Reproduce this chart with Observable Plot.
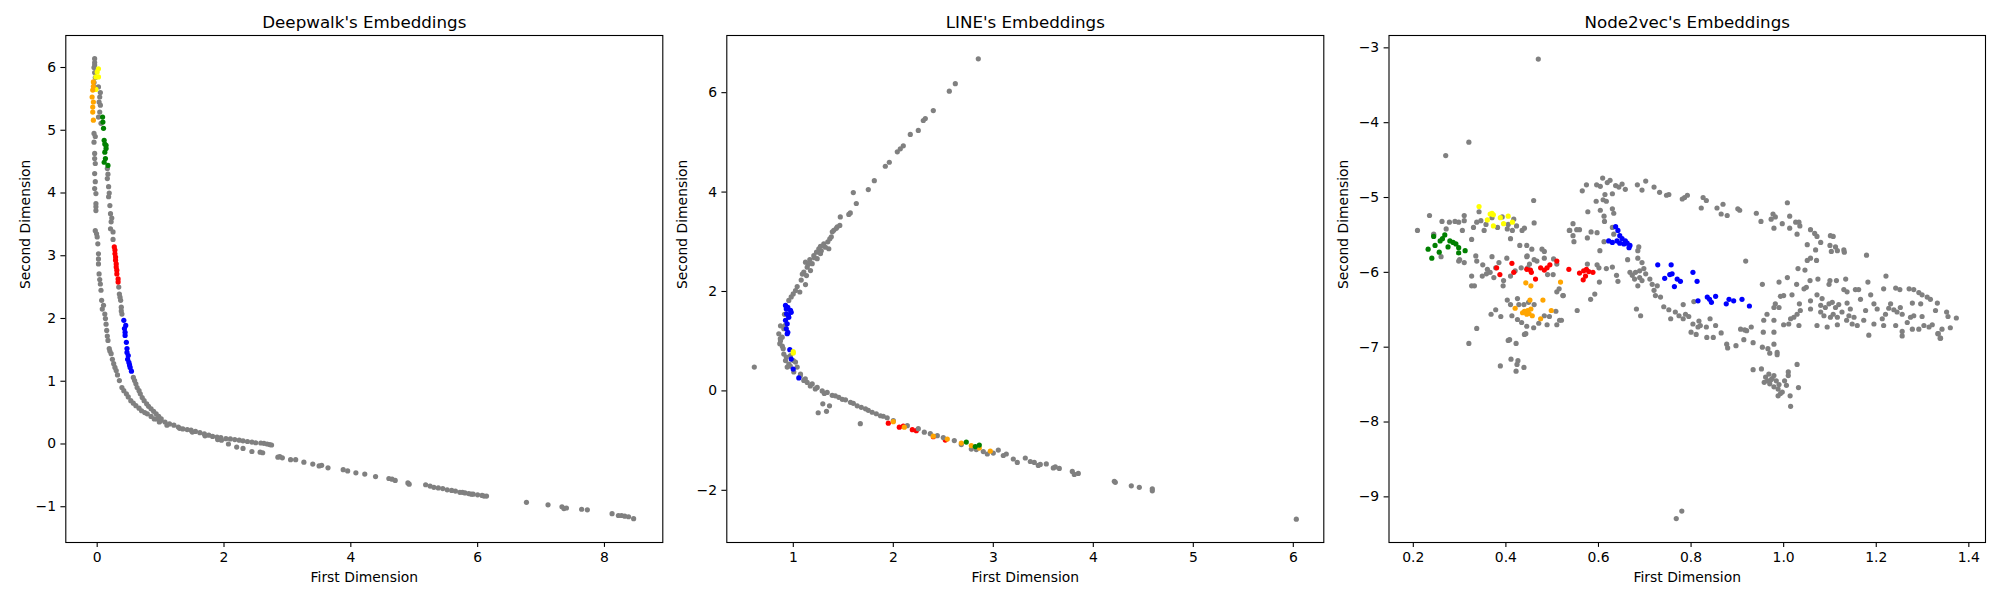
<!DOCTYPE html>
<html>
<head>
<meta charset="utf-8">
<script src="https://cdn.jsdelivr.net/npm/d3@7"></script>
<script src="https://cdn.jsdelivr.net/npm/@observablehq/plot@0.6"></script>
<style>
  html, body { margin: 0; padding: 0; background: white; }
  #c { display: flex; width: 2000px; height: 600px; }
</style>
</head>
<body>
<div id="c"></div>
<script>
// ---------- Titles / labels / ticks ----------
const titles = ["Deepwalk's Embeddings", "LINE's Embeddings", "Node2vec's Embeddings"];
const xLabel = "First Dimension";
const yLabel = "Second Dimension";
const dwXTicks = [0, 2, 4, 6, 8];
const dwYTicks = [-1, 0, 1, 2, 3, 4, 5, 6];
const lnXTicks = [1, 2, 3, 4, 5, 6];
const lnYTicks = [-2, 0, 2, 4, 6];
const nvXTicks = [0.2, 0.4, 0.6, 0.8, 1.0, 1.2, 1.4];
const nvYTicks = [-9, -8, -7, -6, -5, -4, -3];

// ---------- Deepwalk ----------
const dwGray = [[-0.04,6.14],[-0.04,6.08],[-0.05,6.0],[-0.04,5.92],[-0.03,5.84],[-0.05,5.76],[-0.03,5.68],[-0.04,6.04],
[0.02,5.69],[0.04,5.53],[0.05,5.4],[0.04,5.29],[0.06,5.11],[0.02,5.21],[0.05,5.6],[0.03,5.45],
[-0.05,4.95],[-0.05,4.81],[-0.04,4.63],[-0.03,4.47],[-0.04,4.31],[-0.03,4.18],[-0.04,4.07],[-0.02,3.99],[-0.02,3.83],[-0.02,3.72],[-0.03,3.4],[-0.01,3.35],[0.01,3.19],[0.02,3.03],[0.02,2.87],[0.03,2.71],[0.05,2.55],[0.06,2.45],[0.07,2.29],[0.1,2.21],[0.12,2.07],[0.14,1.91],[0.15,1.81],[0.17,1.65],[0.19,1.52],[0.22,1.44],[0.26,1.28],[0.3,1.17],[0.35,1.01],[0.39,0.9],[0.46,0.8],[0.53,0.69],[0.61,0.61],[0.7,0.53],[0.79,0.48],[0.9,0.4],[0.98,0.35],
[-0.04,4.55],[-0.03,4.9],[-0.02,3.78],[0.0,3.3],[0.02,2.95],[0.04,2.62],[0.08,2.15],[0.13,2.0],[0.16,1.72],[0.2,1.48],[0.24,1.35],[0.28,1.22],[0.32,1.1],[0.42,0.85],[0.49,0.75],[0.57,0.65],[0.66,0.57],[0.75,0.5],[0.85,0.44],
[0.16,4.39],[0.16,4.23],[0.18,4.1],[0.18,3.94],[0.2,3.8],[0.21,3.67],[0.22,3.54],[0.21,3.43],[0.25,3.38],[0.25,3.26],[0.17,4.3],[0.19,4.0],[0.23,3.6],
[0.34,2.5],[0.35,2.39],[0.37,2.29],[0.38,2.18],[0.39,2.07],[0.36,2.34],[0.38,2.12],
[0.57,1.06],[0.61,0.96],[0.66,0.85],[0.71,0.74],[0.78,0.64],[0.85,0.56],[0.93,0.48],[1.01,0.4],[0.59,1.01],[0.63,0.9],[0.68,0.8],[0.74,0.69],[0.81,0.6],[0.89,0.52],[0.97,0.44],
[0.94,0.40],[1.07,0.35],[1.21,0.3],[1.35,0.24],[1.48,0.22],[1.62,0.18],[1.76,0.14],[1.89,0.11],[1.96,0.06],[1.0,0.37],[1.14,0.32],[1.28,0.27],[1.42,0.23],[1.55,0.2],[1.69,0.16],[1.82,0.12],[1.1,0.3],[1.3,0.25],[1.5,0.19],[1.7,0.13],[1.9,0.07],[1.95,0.1],
[2.03,0.085],[2.17,0.07],[2.3,0.05],[2.44,0.03],[2.58,0.016],[2.68,0.0],[2.75,-0.016],[2.1,0.08],[2.24,0.06],[2.37,0.04],[2.5,0.02],[2.63,0.01],[2.72,-0.01],
[2.07,0.0],[2.2,-0.05],[2.3,-0.07],[2.44,-0.12],[2.61,-0.14],[2.85,-0.21],[2.92,-0.22],[3.13,-0.25],[3.26,-0.29],[3.4,-0.32],[3.54,-0.34],[3.64,-0.38],[3.88,-0.41],[4.08,-0.46],[4.22,-0.48],[4.39,-0.52],[4.6,-0.55],[4.7,-0.58],[4.9,-0.62],[5.18,-0.65],[5.31,-0.69],[5.45,-0.71],[5.59,-0.74],[5.72,-0.77],[5.86,-0.79],[6.0,-0.81],[6.14,-0.83],[2.57,-0.13],[2.88,-0.2],[3.05,-0.25],[3.5,-0.35],[3.95,-0.43],[4.65,-0.56],[4.92,-0.64],[5.25,-0.67],[5.38,-0.7],[5.52,-0.73],[5.65,-0.75],[5.8,-0.78],[5.93,-0.8],[6.07,-0.82],[5.76,-0.77],[5.9,-0.8],[6.1,-0.83],
[6.77,-0.93],[7.11,-0.97],[7.33,-1.0],[7.4,-1.02],[7.64,-1.04],[7.73,-1.05],[8.12,-1.11],[8.22,-1.14],[8.32,-1.15],[8.46,-1.19],[8.27,-1.14],[8.38,-1.16],[7.36,-1.03]];
const dwYellow = [[0.02,5.98],[-0.02,5.85],[0.02,5.85],[-0.02,5.65],[0.0,5.93]];
const dwOrange = [[-0.06,5.77],[-0.07,5.64],[-0.08,5.53],[-0.06,5.45],[-0.07,5.37],[-0.07,5.29],[-0.06,5.16],[-0.06,5.7]];
const dwGreen = [[0.085,5.21],[0.1,5.03],[0.09,5.13],[0.11,4.84],[0.14,4.76],[0.12,4.65],[0.13,4.55],[0.11,4.49],[0.17,4.44],[0.14,4.71],[0.12,4.78]];
const dwRed = [[0.27,3.14],[0.28,3.03],[0.29,2.93],[0.3,2.82],[0.31,2.71],[0.33,2.63],[0.31,2.77],[0.28,3.09],[0.33,2.58],[0.29,2.98],[0.3,2.87]];
const dwBlue = [[0.42,1.97],[0.43,1.84],[0.44,1.73],[0.46,1.62],[0.47,1.52],[0.49,1.41],[0.5,1.3],[0.52,1.22],[0.54,1.16],[0.45,1.89],[0.47,1.46],[0.44,1.78],[0.48,1.35],[0.51,1.26]];

// ---------- LINE ----------
const lnGray = [[2.85,6.68],[2.62,6.18],[2.56,6.03],[2.40,5.64],[2.32,5.48],[2.30,5.44],[2.25,5.24],[2.17,5.16],[2.10,4.93],[2.07,4.87],[2.04,4.81],[1.96,4.6],[1.92,4.52],[1.81,4.23],[1.75,4.05],[1.6,3.99],[1.63,3.77],[1.57,3.58],[1.555,3.55],[1.47,3.5],[1.465,3.33],[1.44,3.3],[1.405,3.23],[1.39,3.2],[1.365,3.06],[1.345,3.0],[1.305,2.96],[1.272,2.91],[1.322,2.89],[1.255,2.86],[1.355,2.86],[1.232,2.79],[1.272,2.76],[1.205,2.72],[1.239,2.66],[1.165,2.64],[1.189,2.56],[1.122,2.59],[1.139,2.49],[1.172,2.42],[1.105,2.39],[1.132,2.32],[1.079,2.23],[1.122,2.14],[1.039,2.1],[1.022,2.02],[1.065,1.99],[0.999,1.95],[0.979,1.89],[0.955,1.82],[1.43,3.27],[1.38,3.1],[1.3,2.92],[1.28,2.82],[1.21,2.68],[1.15,2.55],[1.09,2.35],
[0.912,1.54],[0.872,1.31],[0.905,1.25],[0.855,1.15],[0.872,1.01],[0.865,0.95],[0.899,0.85],[0.905,0.74],[0.922,0.61],[0.955,0.54],[0.939,0.48],[1.0,0.61],[1.022,0.58],[1.039,0.48],[1.005,0.38],[1.072,0.34],[1.105,0.21],[1.139,0.17],[1.189,0.14],[1.239,0.07],[1.289,0.0],[1.339,-0.03],[1.389,-0.09],[1.455,-0.13],[1.522,-0.18],[1.572,-0.23],[1.639,-0.3],[1.722,-0.36],[1.789,-0.43],[1.872,-0.5],[1.939,-0.54],[0.972,0.71],[0.889,1.08],[0.92,1.32],[0.87,1.05],[0.89,0.9],[0.93,0.68],[0.97,0.5],[1.07,0.3],[1.12,0.24],[1.17,0.1],[1.22,0.04],[1.31,-0.05],[1.42,-0.1],[1.49,-0.17],[1.6,-0.25],[1.68,-0.33],[1.75,-0.39],[1.83,-0.46],[1.9,-0.51],
[0.61,0.48],[1.295,-0.26],[1.362,-0.3],[1.249,-0.44],[1.332,-0.41],[1.67,-0.66],
[2.14,-0.7],[2.31,-0.83],[2.44,-0.9],[2.61,-1.0],[2.78,-1.17],[2.94,-1.27],[3.05,-1.19],[3.13,-1.27],[3.2,-1.37],[3.24,-1.44],[3.32,-1.35],[3.41,-1.44],[3.47,-1.48],[3.53,-1.47],[3.6,-1.55],[3.66,-1.56],[3.79,-1.62],[3.81,-1.68],[3.85,-1.66],[2.0,-0.6],[2.25,-0.76],[2.37,-0.86],[2.5,-0.94],[2.68,-1.08],[2.83,-1.18],[2.9,-1.22],[3.0,-1.25],[3.1,-1.3],[3.37,-1.42],[3.45,-1.5],[3.62,-1.53],
[4.22,-1.84],[4.38,-1.91],[4.46,-1.94],[4.59,-2.01],[4.59,-1.97],[6.03,-2.58],[4.21,-1.82]];
const lnBlue = [[0.922,1.72],[0.945,1.68],[0.972,1.62],[0.932,1.55],[0.955,1.48],[0.922,1.42],[0.939,1.35],[0.945,1.18],[0.979,1.58],[0.965,0.83],[0.979,0.64],[0.999,0.44],[1.055,0.26],[0.939,1.15],[0.93,1.65],[0.95,1.52],[0.93,1.25]];
const lnYellow = [[0.999,0.79],[1.0,0.76]];
const lnRed = [[1.95,-0.65],[2.1,-0.71],[2.19,-0.78],[2.23,-0.8],[2.06,-0.73],[2.4,-0.92],[2.52,-0.99]];
const lnOrange = [[2.0,-0.62],[2.11,-0.73],[2.54,-0.97],[2.68,-1.05],[2.78,-1.1],[2.86,-1.15],[2.97,-1.21],[2.4,-0.91]];
const lnGreen = [[2.73,-1.03],[2.86,-1.09],[2.82,-1.12]];

// ---------- Node2vec ----------
const nvGray = [[0.47,-3.15],[0.32,-4.26],[0.27,-4.44],[0.209,-5.44],[0.235,-5.24],[0.244,-5.49],[0.262,-5.32],[0.271,-5.42],[0.278,-5.33],[0.29,-5.32],[0.298,-5.33],[0.31,-5.31],[0.31,-5.24],[0.306,-5.44],[0.326,-5.56],[0.33,-5.4],[0.337,-5.33],[0.342,-5.19],[0.346,-5.31],[0.353,-5.44],[0.357,-5.36],[0.37,-5.27],[0.382,-5.4],[0.392,-5.26],[0.403,-5.42],[0.405,-5.36],[0.414,-5.44],[0.417,-5.29],[0.423,-5.38],[0.435,-5.44],[0.44,-5.41],[0.41,-5.55],[0.43,-5.64],[0.445,-5.64],[0.456,-5.69],[0.46,-5.04],[0.461,-5.34],[0.483,-5.72],[0.478,-5.69],[0.445,-5.79],[0.461,-5.83],[0.483,-5.81],[0.503,-5.82],[0.51,-5.89],[0.538,-5.44],
[0.244,-5.5],[0.26,-5.79],[0.298,-5.85],[0.31,-5.87],[0.3,-5.83],
[0.335,-5.78],[0.337,-5.85],[0.35,-5.9],[0.36,-5.96],[0.37,-5.79],[0.378,-5.94],[0.385,-5.87],[0.402,-5.81],[0.349,-6.05],[0.358,-6.02],[0.366,-6.0],[0.374,-6.07],[0.395,-6.11],[0.394,-6.18],[0.41,-6.05],[0.42,-5.98],[0.326,-6.05],[0.326,-6.18],[0.332,-6.18],[0.433,-5.94],[0.447,-5.94],[0.451,-5.89],[0.446,-5.78],[0.467,-5.85],[0.49,-6.03],[0.502,-6.03],[0.515,-6.22],[0.523,-6.31],[0.51,-6.26],
[0.403,-6.37],[0.41,-6.43],[0.425,-6.35],[0.428,-6.43],[0.439,-6.43],[0.449,-6.4],[0.461,-6.43],[0.413,-6.58],[0.425,-6.63],[0.434,-6.67],[0.445,-6.72],[0.46,-6.74],[0.471,-6.68],[0.483,-6.58],[0.489,-6.7],[0.494,-6.59],[0.508,-6.52],[0.51,-6.7],[0.516,-6.64],[0.368,-6.56],[0.378,-6.5],[0.389,-6.59],[0.337,-6.75],[0.32,-6.95],[0.405,-6.91],[0.422,-6.95],[0.44,-6.83],[0.388,-7.25],[0.411,-7.16],[0.426,-7.18],[0.424,-7.23],[0.422,-7.32],[0.439,-7.27],[0.443,-6.82],[0.408,-6.9],
[0.768,-9.29],[0.78,-9.19],
[0.8,-6.8],[0.811,-6.83],[0.834,-6.87],[0.848,-6.87],[0.865,-6.81],[0.877,-6.96],[0.879,-7.01],[0.897,-6.98],[0.914,-6.9],[0.92,-6.78],[0.934,-6.94],[0.934,-7.3],[0.952,-7.29],[0.954,-7.0],[0.956,-6.8],[0.966,-7.02],[0.97,-7.08],[0.979,-6.96],[0.986,-7.07],[0.986,-7.1],[0.979,-6.8],
[0.961,-7.4],[0.965,-7.45],[0.97,-7.49],[0.975,-7.42],[0.979,-7.38],[0.984,-7.45],[0.979,-7.53],[0.988,-7.56],[0.993,-7.62],[0.997,-7.6],[0.988,-7.65],[1.002,-7.45],[1.006,-7.51],[1.01,-7.33],[1.014,-7.65],[1.015,-7.79],[1.029,-7.23],[1.032,-7.54],[1.01,-7.38],[0.968,-7.36],[0.972,-7.44],[0.99,-7.5],[0.958,-7.47],
[1.184,-6.84],[1.256,-6.79],[1.334,-6.82],[1.338,-6.88],
[0.565,-4.91],[0.574,-4.83],[0.596,-4.83],[0.604,-4.85],[0.609,-4.74],[0.619,-4.8],[0.625,-4.77],[0.637,-4.84],[0.651,-4.82],[0.658,-4.89],[0.644,-4.86],[0.684,-4.83],[0.694,-4.9],[0.702,-4.78],[0.72,-4.86],[0.732,-4.93],[0.747,-4.97],[0.752,-4.96],[0.781,-5.02],[0.792,-4.97],[0.786,-5.0],[0.826,-5.0],[0.833,-5.04],[0.822,-5.14],[0.856,-5.14],[0.869,-5.09],[0.865,-5.22],[0.878,-5.24],[0.901,-5.15],[0.905,-5.17],[0.941,-5.21],[0.951,-5.32],[0.977,-5.22],[0.973,-5.29],[0.982,-5.26],[0.997,-5.35],[1.008,-5.07],[1.013,-5.25],[1.013,-5.41],[0.979,-5.41],[1.026,-5.33],[1.033,-5.33],[1.035,-5.38],[1.029,-5.49],[1.058,-5.43],[1.067,-5.48],[1.072,-5.52],[1.08,-5.6],[1.051,-5.63],[1.069,-5.7],[1.101,-5.51],[1.107,-5.52],[1.1,-5.64],[1.103,-5.72],[1.112,-5.66],[1.116,-5.71],[1.13,-5.7],[1.131,-5.73],[1.179,-5.77],[1.058,-5.81],[1.051,-5.84],[1.071,-5.84],[1.031,-5.95],[1.046,-5.97],[0.918,-5.85],
[0.595,-5.05],[0.61,-5.03],[0.617,-5.05],[0.614,-4.96],[0.63,-4.95],[0.577,-5.19],[0.604,-5.17],[0.63,-5.15],[0.633,-5.21],[0.612,-5.25],[0.613,-5.32],[0.545,-5.35],[0.537,-5.44],[0.553,-5.43],[0.559,-5.43],[0.545,-5.51],[0.547,-5.59],[0.576,-5.54],[0.584,-5.46],[0.597,-5.47],[0.63,-5.4],[0.633,-5.49],[0.612,-5.59],[0.603,-5.71],[0.687,-5.66],[0.685,-5.71],[0.663,-5.83],[0.685,-5.81],[0.694,-5.87],[0.576,-5.89],[0.597,-5.9],[0.601,-5.94],[0.617,-5.95],[0.63,-5.93],[0.639,-6.04],[0.642,-6.12],[0.602,-6.13],[0.592,-6.29],[0.583,-6.36],[0.554,-6.51],[0.524,-6.31],[0.52,-6.64],
[0.668,-6.0],[0.673,-6.04],[0.68,-6.0],[0.689,-5.98],[0.698,-5.95],[0.678,-6.09],[0.689,-6.07],[0.694,-6.11],[0.702,-6.02],[0.711,-6.09],[0.716,-6.16],[0.727,-6.18],[0.72,-6.24],[0.723,-6.31],[0.734,-6.33],[0.685,-6.18],[0.682,-6.49],[0.691,-6.58],[0.741,-6.46],[0.752,-6.5],[0.756,-6.62],[0.766,-6.53],[0.774,-6.58],[0.783,-6.43],[0.788,-6.56],[0.795,-6.59],[0.783,-6.62],[0.806,-6.39],[0.804,-6.69],[0.817,-6.65],[0.82,-6.71],[0.815,-6.73],[0.833,-6.73],[0.841,-6.62],[0.853,-6.71],[0.907,-6.76],[0.916,-6.77],[0.93,-6.73],[0.957,-6.64],[0.964,-6.56],[0.979,-6.64],[0.979,-6.47],[0.982,-6.42],[0.99,-6.47],[1.0,-6.7],[1.011,-6.69],[1.015,-6.62],[1.022,-6.6],[1.029,-6.56],[1.036,-6.51],[1.034,-6.42],[1.033,-6.71],[0.993,-6.32],[1.0,-6.31],[1.018,-6.3],[0.954,-6.16],[0.99,-6.13],[1.008,-6.07],[1.028,-6.16],[1.044,-6.22],[1.049,-6.2],[1.057,-6.11],[1.074,-6.09],[1.098,-6.16],[1.1,-6.11],[1.114,-6.11],[1.134,-6.09],[1.13,-6.23],[1.137,-6.26],[1.155,-6.23],[1.162,-6.23],[1.182,-6.13],[1.221,-6.05],[1.216,-6.22],[1.242,-6.21],[1.251,-6.23],[1.271,-6.22],[1.281,-6.23],[1.292,-6.27],[1.299,-6.3],
[1.058,-6.38],[1.072,-6.3],[1.083,-6.35],[1.058,-6.49],[1.08,-6.44],[1.09,-6.47],[1.098,-6.42],[1.105,-6.4],[1.112,-6.47],[1.119,-6.43],[1.08,-6.53],[1.087,-6.58],[1.101,-6.6],[1.107,-6.56],[1.116,-6.6],[1.126,-6.53],[1.137,-6.41],[1.144,-6.49],[1.141,-6.58],[1.152,-6.6],[1.136,-6.64],[1.148,-6.69],[1.159,-6.71],[1.173,-6.64],[1.177,-6.51],[1.166,-6.36],[1.188,-6.3],[1.195,-6.42],[1.202,-6.49],[1.195,-6.69],[1.213,-6.62],[1.22,-6.56],[1.227,-6.48],[1.231,-6.42],[1.238,-6.5],[1.245,-6.53],[1.252,-6.47],[1.256,-6.56],[1.216,-6.71],[1.242,-6.71],[1.267,-6.67],[1.274,-6.6],[1.281,-6.58],[1.256,-6.85],[1.278,-6.76],[1.292,-6.76],[1.303,-6.71],[1.314,-6.73],[1.321,-6.7],[1.317,-6.36],[1.31,-6.33],[1.332,-6.41],[1.296,-6.42],[1.278,-6.41],[1.299,-6.59],[1.328,-6.51],[1.352,-6.53],[1.355,-6.59],[1.373,-6.61],[1.342,-6.76],[1.36,-6.74],[1.333,-6.82],[1.339,-6.88],[1.072,-6.71],[1.094,-6.73],[1.116,-6.7]];
const nvGreen = [[0.232,-5.69],[0.24,-5.81],[0.247,-5.64],[0.256,-5.73],[0.258,-5.58],[0.263,-5.55],[0.268,-5.5],[0.275,-5.66],[0.279,-5.58],[0.286,-5.6],[0.292,-5.62],[0.298,-5.67],[0.312,-5.71],[0.298,-5.74],[0.244,-5.52]];
const nvYellow = [[0.342,-5.12],[0.366,-5.22],[0.373,-5.23],[0.388,-5.27],[0.405,-5.25],[0.373,-5.38],[0.395,-5.35],[0.414,-5.33],[0.36,-5.3],[0.37,-5.21]];
const nvRed = [[0.38,-5.94],[0.387,-6.03],[0.413,-5.88],[0.417,-6.0],[0.445,-5.96],[0.455,-6.0],[0.464,-6.09],[0.475,-5.94],[0.483,-5.97],[0.489,-5.94],[0.495,-5.9],[0.51,-5.85],[0.453,-5.97],[0.536,-5.96],[0.559,-6.01],[0.568,-5.98],[0.574,-5.96],[0.588,-6.0],[0.572,-6.05],[0.567,-6.1],[0.579,-5.99]];
const nvOrange = [[0.443,-6.14],[0.454,-6.18],[0.452,-6.37],[0.48,-6.37],[0.518,-6.13],[0.42,-6.48],[0.436,-6.54],[0.447,-6.51],[0.454,-6.49],[0.457,-6.58],[0.445,-6.56],[0.475,-6.62],[0.498,-6.51],[0.44,-6.52],[0.45,-6.55]];
const nvBlue = [[0.637,-5.39],[0.642,-5.44],[0.646,-5.51],[0.64,-5.58],[0.651,-5.55],[0.658,-5.58],[0.662,-5.61],[0.668,-5.64],[0.666,-5.67],[0.646,-5.61],[0.622,-5.58],[0.63,-5.6],[0.655,-5.62],[0.728,-5.9],[0.757,-5.9],[0.743,-6.08],[0.754,-6.03],[0.759,-6.02],[0.77,-6.09],[0.777,-6.12],[0.764,-6.19],[0.804,-6.0],[0.813,-6.12],[0.815,-6.38],[0.835,-6.33],[0.84,-6.36],[0.844,-6.4],[0.853,-6.32],[0.876,-6.42],[0.882,-6.36],[0.892,-6.38],[0.91,-6.36],[0.926,-6.45]];

// ---------- drawing ----------
const FONT = "'DejaVu Sans', sans-serif";
const intFmt = d3.format("d");
function panel(cfg) {
  const dots = cfg.layers.map(([data, color]) =>
    Plot.dot(data, {x: d => d[0], y: d => d[1], r: 2.6, fill: color}));
  return Plot.plot({
    width: cfg.width, height: 600,
    marginTop: 35, marginBottom: 58, marginLeft: cfg.ml, marginRight: cfg.mr,
    x: {domain: cfg.xDomain},
    y: {domain: cfg.yDomain},
    style: {fontFamily: FONT, fontSize: "13.9px", color: "black", background: "white", overflow: "visible"},
    marks: [
      ...dots,
      Plot.frame({stroke: "black", strokeWidth: 1.1}),
      Plot.axisX({ticks: cfg.xTicks, tickSize: 4.9, tickPadding: 4.9, label: null, tickFormat: cfg.xFormat || intFmt, strokeWidth: 1.1}),
      Plot.axisY({ticks: cfg.yTicks, tickSize: 4.9, tickPadding: 4.9, label: null, tickFormat: intFmt, strokeWidth: 1.1}),
      Plot.text([cfg.title], {text: d => d, frameAnchor: "top", lineAnchor: "middle", dy: -13.3, fontSize: 16.7}),
      Plot.text([xLabel], {text: d => d, frameAnchor: "bottom", lineAnchor: "middle", dy: 35.3}),
      Plot.text([yLabel], {text: d => d, frameAnchor: "left", lineAnchor: "middle", rotate: -90, dx: cfg.ylDx})
    ]
  });
}

const c = document.getElementById("c");
c.append(panel({
  title: titles[0], width: 690, ml: 65.3, mr: 27.7,
  xDomain: [-0.495, 8.92], yDomain: [-1.57, 6.51], xTicks: dwXTicks, yTicks: dwYTicks, ylDx: -39.9,
  layers: [[dwGray, "gray"], [dwYellow, "yellow"], [dwOrange, "orange"], [dwGreen, "green"], [dwRed, "red"], [dwBlue, "blue"]]
}));
c.append(panel({
  title: titles[1], width: 660, ml: 36.3, mr: 26.7,
  xDomain: [0.335, 6.305], yDomain: [-3.05, 7.15], xTicks: lnXTicks, yTicks: lnYTicks, ylDx: -44.6,
  layers: [[lnRed, "red"], [lnGray, "gray"], [lnBlue, "blue"], [lnYellow, "yellow"], [lnOrange, "orange"], [lnGreen, "green"]]
}));
c.append(panel({
  title: titles[2], width: 650, ml: 38.5, mr: 15,
  xDomain: [0.1475, 1.436], yDomain: [-9.61, -2.835], xTicks: nvXTicks, yTicks: nvYTicks, ylDx: -45.3,
  xFormat: d3.format(".1f"),
  layers: [[nvGray, "gray"], [nvGreen, "green"], [nvYellow, "yellow"], [nvRed, "red"], [nvOrange, "orange"], [nvBlue, "blue"]]
}));
</script>
</body>
</html>
